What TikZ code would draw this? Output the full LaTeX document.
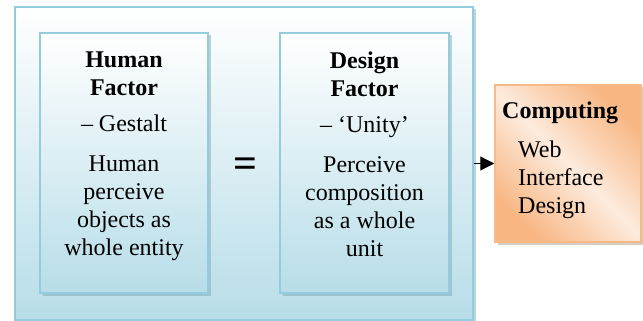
\documentclass[tikz,border=0pt]{standalone}
\usepackage{fontspec}
\setmainfont{Liberation Serif}
\newfontfamily\diagfont{Liberation Serif}[Ligatures=TeX]
\usetikzlibrary{positioning, shadows, arrows.meta}
\definecolor{boxline}{HTML}{93CDDD}
\definecolor{boxfill}{HTML}{B7DDE8}
\definecolor{boxshadow}{HTML}{7FA8B5}
\definecolor{compline}{HTML}{F9B987}
\definecolor{compfill}{HTML}{FDEBDD}
\definecolor{compdark}{HTML}{F8B682}
\definecolor{compshadow}{HTML}{B09A86}
\tikzstyle{panel} = [rectangle, draw=boxline, line width=1.5pt, top color=white, bottom color=boxfill, drop shadow={shadow xshift=2.5pt, shadow yshift=-2.5pt, fill=boxshadow}]
\tikzstyle{compbox} = [rectangle, draw=compline, line width=1.5pt, left color=compdark, right color=compdark, middle color=compfill, shading angle=-45, drop shadow={shadow xshift=2.5pt, shadow yshift=-2.5pt, fill=compshadow}]
\tikzstyle{txt} = [inner sep=0pt, align=center, font=\diagfont\fontsize{24}{28}\selectfont]
\tikzstyle{arrow} = [line width=1.3pt, -{Triangle[length=14pt, width=14pt]}]

\begin{document}
\begin{tikzpicture}[x=1pt, y=-1pt]
			\useasboundingbox (0,0) rectangle (643,321);
			
			\node (outer) [panel, minimum width=458pt, minimum height=313pt] at (244,163.5) {};
			
			\node (human) [panel, minimum width=168pt, minimum height=260pt] at (124,163) {};
			\node (design) [panel, minimum width=169pt, minimum height=260pt] at (364.5,163) {};
			
			\node (humantext) [txt, anchor=north] at (124,51.5) {\textbf{Human}\\ \textbf{Factor}\\[8pt] -- Gestalt\\[12pt] Human\\ perceive\\ objects as\\ whole entity};
			\node (designtext) [txt, anchor=north] at (364.5,51.5) {\textbf{Design}\\ \textbf{Factor}\\[8pt] -- `Unity'\\[12pt] Perceive\\ composition\\ as a whole\\ unit};
			
			\node (equals) [inner sep=0pt, font=\diagfont\fontsize{42}{42}\selectfont\bfseries] at (245,168) {=};
			
			\node (comp) [compbox, minimum width=146pt, minimum height=157pt] at (568,163.5) {};
			\node (comptitle) [txt, anchor=base west] at (502,118) {\textbf{Computing}};
			\node (comptext) [txt, align=left, anchor=north west] at (518,141) {Web\\ Interface\\ Design};
			
			\draw [arrow] (outer.east) -- (comp.west);
\end{tikzpicture}
\end{document}
